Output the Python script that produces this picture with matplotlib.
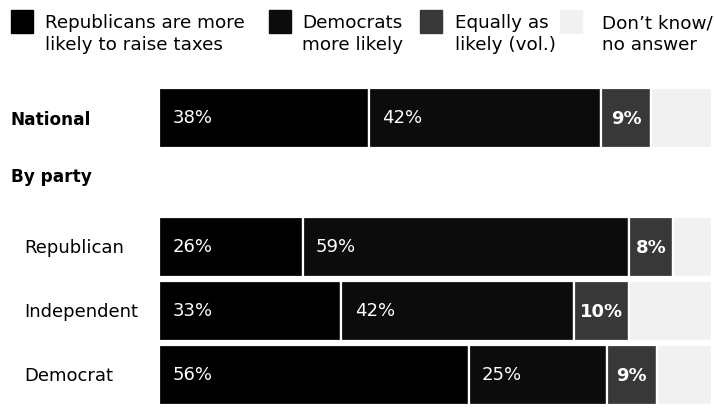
import matplotlib
matplotlib.use("Agg")
import matplotlib.pyplot as plt
from matplotlib.patches import Rectangle

# Data
rows = ["National", "Republican", "Independent", "Democrat"]
rep_more = [38, 26, 33, 56]
dem_more = [42, 59, 42, 25]
equally = [9, 8, 10, 9]
dont_know = [11, 7, 15, 10]

legend_labels = ["Republicans are more\nlikely to raise taxes", "Democrats\nmore likely",
                 "Equally as\nlikely (vol.)", "Don\u2019t know/\nno answer"]
colors = ["#000000", "#0c0c0c", "#383838", "#f1f1f1"]

plt.rcParams['font.family'] = ['DejaVu Sans']

W, H = 714, 408
fig = plt.figure(figsize=(W / 100, H / 100), dpi=100)
ax = fig.add_axes([0, 0, 1, 1])
# 1% = 5.53 px, bars start at x=159 px
px_per = 5.53
x0 = 159
ax.set_xlim(-x0 / px_per, (W - x0) / px_per)
ax.set_ylim(H, 0)
ax.axis("off")


def px(x):
    # figure pixel column -> data x
    return (x - x0) / px_per


y_pos = [118, 247, 311, 375]
bar_h = 60

series = [rep_more, dem_more, equally, dont_know]
for i, y in enumerate(y_pos):
    left = 0
    for s, vals in enumerate(series):
        v = vals[i]
        ax.barh(y, v, left=left, height=bar_h, color=colors[s],
                edgecolor="white", linewidth=1.6)
        if s < 2:
            ax.text(left + 2.4, y, f"{v}%", color="white", fontsize=13,
                    ha="left", va="center")
        elif s == 2:
            ax.text(left + v / 2, y + 1, f"{v}%", color="white", fontsize=13,
                    fontweight="bold", ha="center", va="center")
        left += v

# Row labels
ax.text(px(11), y_pos[0] + 2, rows[0], fontsize=12.2,
        fontweight="bold", ha="left", va="center")
ax.text(px(11), 177, "By party", fontsize=12.2,
        fontweight="bold", ha="left", va="center")
for name, y in zip(rows[1:], y_pos[1:]):
    ax.text(px(24), y + 1, name, fontsize=13,
            ha="left", va="center")

# Legend
sq_x = [11, 269, 420, 560]
txt_x = [45, 302, 455, 602]
for s in range(4):
    ax.add_patch(Rectangle((px(sq_x[s]), 10), 22 / px_per, 23,
                           color=colors[s], clip_on=False))
    ax.text(px(txt_x[s]), 14, legend_labels[s], fontsize=13.2,
            ha="left", va="top", linespacing=1.3)

fig.savefig("out.png", dpi=100)
